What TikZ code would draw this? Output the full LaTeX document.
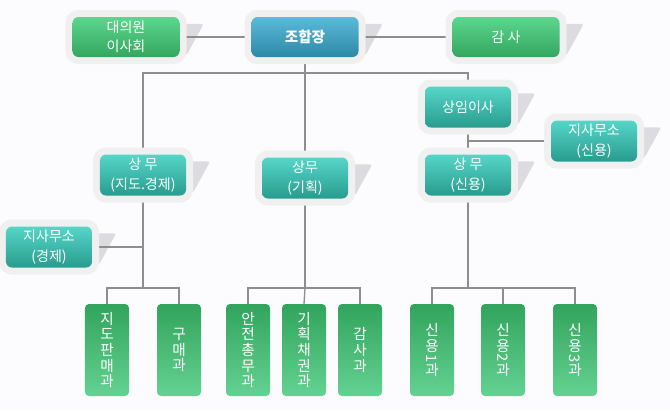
\documentclass[tikz,border=0pt]{standalone}
\usepackage{fontspec}
\setmainfont{Noto Sans CJK KR}
\usetikzlibrary{backgrounds}

% grey tab behind the right side of a framed box
\newcommand{\boxtab}[1]{%
  \fill[tabGray, rounded corners=2]
      ([shift={( 0, 7)}]#1.north east)
   -- ([shift={(24, 7)}]#1.north east)
   -- ([shift={( 7,38)}]#1.north east)
   -- ([shift={( 0,38)}]#1.north east) -- cycle;}

\begin{document}
\begin{tikzpicture}[x=0.03cm, y=-0.03cm,
  every node/.style={text=white, align=center, inner sep=0pt},
  framed/.style={rounded corners=0.18cm, font=\fontsize{12}{16.5}\selectfont,
    preaction={draw=frameGray, line width=0.42cm}},
  topbox/.style={framed, minimum width=3.21cm, minimum height=1.2cm},
  midbox/.style={framed, minimum width=2.58cm, minimum height=1.23cm,
    top color=tealTop, bottom color=tealBot},
  greenbox/.style={top color=greenTop, bottom color=greenBot},
  bluebox/.style={top color=blueTop, bottom color=blueBot},
  deptbox/.style={rounded corners=0.12cm, minimum width=1.32cm, minimum height=2.76cm,
    top color=deptTop, bottom color=deptBot, font=\fontsize{12.5}{13.4}\selectfont},
  link/.style={draw=lineGray, line width=0.04cm}]
% Colors
\definecolor{frameGray}{RGB}{240,240,240}
\definecolor{tabGray}{RGB}{220,219,224}
\definecolor{lineGray}{RGB}{142,142,142}
\definecolor{bgColor}{RGB}{252,252,254}
\definecolor{greenTop}{RGB}{92,214,142}
\definecolor{greenBot}{RGB}{52,166,96}
\definecolor{blueTop}{RGB}{92,186,218}
\definecolor{blueBot}{RGB}{44,136,166}
\definecolor{tealTop}{RGB}{86,214,200}
\definecolor{tealBot}{RGB}{40,156,142}
\definecolor{deptTop}{RGB}{50,164,92}
\definecolor{deptBot}{RGB}{100,210,146}
\useasboundingbox (0,0) rectangle (670,410);
% Top row
\node[topbox, greenbox] (council) at (126,37) {대의원\\이사회};
\node[topbox, bluebox, font=\fontsize{12.5}{16}\selectfont\bfseries] (chief) at (305,37) {조합장};
\node[topbox, greenbox] (audit) at (506,37) {감 사};
% Middle
\node[midbox] (director) at (468,107) {상임이사};
\node[midbox] (ecodir) at (143,175) {상 무\\(지도.경제)};
\node[midbox] (planning) at (305,178) {상무\\(기획)};
\node[midbox] (credit) at (468,175) {상 무\\(신용)};
\node[midbox] (credbranch) at (594,141) {지사무소\\(신용)};
\node[midbox] (ecobranch) at (49,247) {지사무소\\(경제)};
% Departments
\node[deptbox] (sales) at (107,350) {지\\도\\판\\매\\과};
\node[deptbox] (purchase) at (179,350) {구\\매\\과};
\node[deptbox] (safety) at (248,350) {안\\전\\총\\무\\과};
\node[deptbox] (bonds) at (304,350) {기\\획\\채\\권\\과};
\node[deptbox] (audsec) at (360,350) {감\\사\\과};
\node[deptbox] (credit1) at (432,350) {신\\용\\[-3pt]\rotatebox[origin=c]{-90}{1}\\[-3pt]과};
\node[deptbox] (credit2) at (503,350) {신\\용\\[-3pt]\rotatebox[origin=c]{-90}{2}\\[-3pt]과};
\node[deptbox] (credit3) at (575,350) {신\\용\\[-3pt]\rotatebox[origin=c]{-90}{3}\\[-3pt]과};
\begin{scope}[on background layer]
	\fill[bgColor] (0,0) rectangle (670,410);
	% tabs
	\foreach \n in {council,chief,audit,director,ecodir,planning,credit,credbranch,ecobranch}
	  \boxtab{\n};
	% connectors
	\coordinate (topbus) at (305,73);
	\coordinate (lbus) at (143,288);
	\coordinate (mbus) at (305,288);
	\coordinate (rbus) at (468,288);
	\draw[link] (council) -- (chief);
	\draw[link] (chief) -- (audit);
	\draw[link] (chief) -- (planning);
	\draw[link] (ecodir.north) |- (topbus) -| (director.north);
	\draw[link] (director) -- (credit);
	\draw[link] (credbranch.west) -- (credbranch.west -| director);
	\draw[link] (ecodir.south) -- (lbus);
	\draw[link] (ecobranch.east) -- (ecobranch.east -| ecodir);
	\draw[link] (sales.north) |- (lbus) -| (purchase.north);
	\draw[link] (planning.south) -- (mbus);
	\draw[link] (safety.north) |- (mbus) -| (audsec.north);
	\draw[link] (mbus) -- (bonds.north);
	\draw[link] (credit.south) -- (rbus);
	\draw[link] (credit1.north) |- (rbus) -| (credit3.north);
	\draw[link] (rbus) -| (credit2.north);
\end{scope}
\end{tikzpicture}
\end{document}
